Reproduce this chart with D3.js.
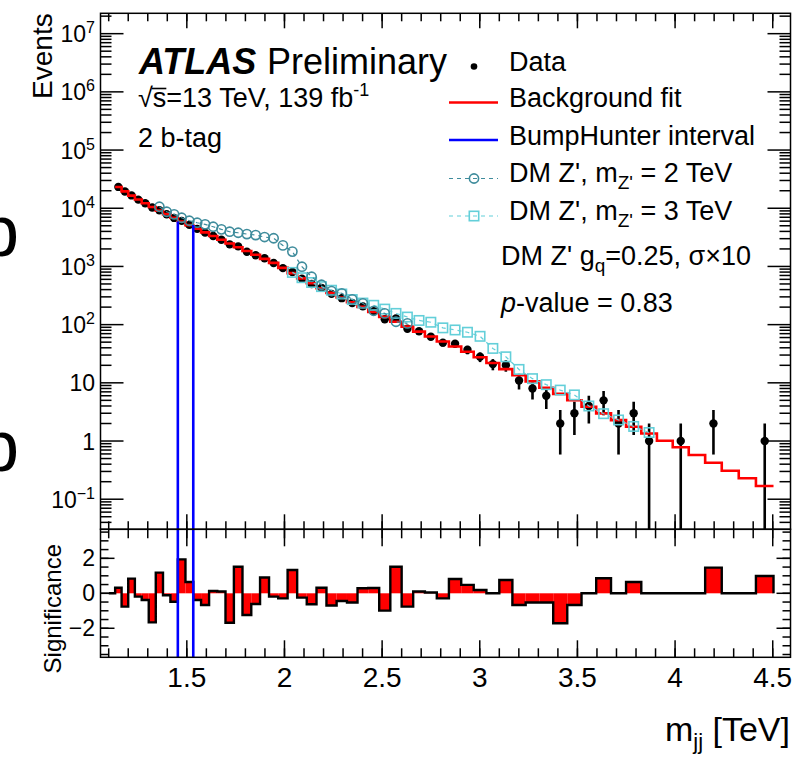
<!DOCTYPE html>
<html>
<head>
<meta charset="utf-8">
<script src="https://cdn.jsdelivr.net/npm/d3@7"></script>
<style>
  body { margin: 0; background: #fff; }
  svg { font-family: "Liberation Sans", Arial, sans-serif; }
</style>
</head>
<body>
<svg id="chart" width="794" height="758"></svg>
<script>
// ---- data ----
// dijet mass bin edges [TeV]
const binEdges = [1.100, 1.133, 1.166, 1.200, 1.234, 1.269, 1.305, 1.341, 1.378, 1.416, 1.454,
  1.493, 1.533, 1.573, 1.614, 1.656, 1.698, 1.741, 1.785, 1.830, 1.875, 1.921, 1.968, 2.016,
  2.065, 2.114, 2.164, 2.215, 2.267, 2.320, 2.374, 2.429, 2.485, 2.542, 2.600, 2.659, 2.719,
  2.780, 2.842, 2.905, 2.969, 3.034, 3.100, 3.167, 3.235, 3.305, 3.376, 3.448, 3.521, 3.596,
  3.672, 3.749, 3.827, 3.907, 3.988, 4.070, 4.154, 4.239, 4.326, 4.414, 4.504];

// observed events per bin
const dataCounts = [0, 23250, 19390, 16610, 14080, 12160, 10330, 9230, 7900, 6820, 6070, 5177,
  4425, 3808, 3338, 2875, 2396, 2210, 1787, 1561, 1383, 1144, 935, 804, 618, 499, 429, 338, 285,
  235, 206, 170, 124, 128, 85, 77, 62, 49, 47, 37, 28, 21, 20, 11, 8, 6, 2, 3, 4, 5, 2, 3, 1, 0,
  1, 0, 2, 0, 0, 1];

// background fit, starting at bin index 1
const bkgStartBin = 1;
const bkgFit = [23200, 19500, 16500, 14100, 12200, 10500, 9120, 7910, 6860, 5920, 5130, 4450,
  3850, 3330, 2870, 2480, 2140, 1840, 1585, 1350, 1150, 944, 767, 624, 513, 422, 351, 292, 243,
  202, 166, 136, 112, 92.3, 75.9, 62.4, 51.3, 42.2, 34.3, 27.5, 21.9, 17.2, 13.5, 10.6, 8.22,
  6.46, 5.01, 3.89, 2.99, 2.29, 1.76, 1.35, 1.01, 0.78, 0.575, 0.424, 0.309, 0.229, 0.169];

// significance per bin
const significance = [0, 0.32, -0.76, 0.84, -0.19, -0.38, -1.66, 1.18, -0.11, -0.48, 1.94, 0.65,
  -0.38, -0.67, 0.13, 0.10, -1.68, 1.52, -1.24, -0.61, 0.90, -0.19, -0.29, 1.33, -0.25, -0.63,
  0.32, -0.70, -0.44, -0.53, 0.29, 0.30, -0.99, 1.52, -0.76, 0.10, 0.05, -0.29, 0.82, 0.48, 0.19,
  0, 0.76, -0.67, -0.53, -0.53, -1.71, -0.67, 0, 0.86, 0, 0.65, 0, 0, 0, 0, 1.47, 0, 0, 0.99];

// DM Z' signal + background, mZ' = 2 TeV (from bin index 7)
const zp2StartBin = 7;
const zp2Values = [10600, 8700, 7860, 6870, 6100, 5640, 5290, 4810, 4340, 3950, 3790, 3600,
  3460, 3200, 3050, 2300, 1800, 990, 665, 485, 378, 345, 272, 232, 173, 156, 112, 105];

// DM Z' signal + background, mZ' = 3 TeV (from bin index 23)
const zp3StartBin = 23;
const zp3Values = [790, 640, 530, 450, 390, 336, 270, 235, 215, 185, 156, 135, 118, 110, 88, 81,
  74, 63, 39, 28, 17, 11.8, 9.3, 7.5, 6.2, 4.0, 2.95, 2.3, 1.78, 1.4];

const bumpInterval = [1.454, 1.533];

const xTickValues = [1.5, 2, 2.5, 3, 3.5, 4, 4.5];
const xTickLabels = ["1.5", "2", "2.5", "3", "3.5", "4", "4.5"];
const yExponents = [-1, 0, 1, 2, 3, 4, 5, 6, 7];
const sigTickValues = [-2, 0, 2];
const sigTickLabels = ["\u22122", "0", "2"];

// ---- layout ----
const frame = {left: 100.5, right: 790.5, top: 13.3, mid: 529.3, bottom: 657.3};
const svg = d3.select("#chart");

const x = d3.scaleLinear().domain([1.058, 4.591]).range([frame.left, frame.right]);
const y = d3.scaleLog().domain([Math.pow(10, -1.517), Math.pow(10, 7.35)]).range([frame.mid, frame.top]);
const ys = d3.scaleLinear().domain([-3.66, 3.66]).range([frame.bottom, frame.mid]);

const bins = binEdges.slice(0, -1).map((lo, i) => ({
  lo: lo, hi: binEdges[i + 1], c: (lo + binEdges[i + 1]) / 2,
  data: dataCounts[i], sig: significance[i],
  bkg: i >= bkgStartBin ? bkgFit[i - bkgStartBin] : null
}));

const defs = svg.append("defs");
defs.append("clipPath").attr("id", "clipMain").append("rect")
  .attr("x", frame.left).attr("y", frame.top)
  .attr("width", frame.right - frame.left).attr("height", frame.mid - frame.top);
defs.append("clipPath").attr("id", "clipRatio").append("rect")
  .attr("x", frame.left).attr("y", frame.mid)
  .attr("width", frame.right - frame.left).attr("height", frame.bottom - frame.mid);

// partial glyphs of the neighbouring figure (cut by the left edge, as in the original)
svg.selectAll("text.edge").data([256, 471]).enter().append("text")
  .attr("class", "edge").attr("x", -21).attr("y", d => d)
  .attr("font-size", 72).text("b");

const main = svg.append("g").attr("clip-path", "url(#clipMain)");

// ---- data points ----
const pts = bins.filter(b => b.data > 0);
main.selectAll("line.err").data(pts).enter().append("line")
  .attr("x1", d => x(d.c)).attr("x2", d => x(d.c))
  .attr("y1", d => y(d.data + Math.sqrt(d.data)))
  .attr("y2", d => (d.data - Math.sqrt(d.data)) > 0 ? y(d.data - Math.sqrt(d.data)) : frame.mid + 10)
  .attr("stroke", "#000").attr("stroke-width", 2.6);
main.selectAll("circle.data").data(pts).enter().append("circle")
  .attr("cx", d => x(d.c)).attr("cy", d => y(d.data)).attr("r", 4.2).attr("fill", "#000");

// ---- background fit ----
let fitPath = "";
bins.filter(b => b.bkg != null).forEach((b, i) => {
  fitPath += (i === 0 ? `M${x(b.lo)},${y(b.bkg)}` : `V${y(b.bkg)}`) + `H${x(b.hi)}`;
});
main.append("path").attr("d", fitPath).attr("fill", "none")
  .attr("stroke", "#ff0000").attr("stroke-width", 2.6);

// ---- signal templates ----
function signal(vals, start, color, shape) {
  const pts = vals.map((v, i) => ({c: bins[start + i].c, v: v}));
  main.append("path")
    .attr("d", d3.line().x(d => x(d.c)).y(d => y(d.v))(pts))
    .attr("fill", "none").attr("stroke", color).attr("stroke-width", 1.2)
    .attr("stroke-dasharray", "4,4");
  if (shape === "circle") {
    main.selectAll(null).data(pts).enter().append("circle")
      .attr("cx", d => x(d.c)).attr("cy", d => y(d.v)).attr("r", 4.6)
      .attr("fill", "none").attr("stroke", color).attr("stroke-width", 1.6);
  } else {
    main.selectAll(null).data(pts).enter().append("rect")
      .attr("x", d => x(d.c) - 4.7).attr("y", d => y(d.v) - 4.7)
      .attr("width", 9.4).attr("height", 9.4)
      .attr("fill", "none").attr("stroke", color).attr("stroke-width", 1.6);
  }
}
signal(zp3Values, zp3StartBin, "#63cfd9", "square");
signal(zp2Values, zp2StartBin, "#3f8c9c", "circle");

// ---- significance panel ----
const ratio = svg.append("g").attr("clip-path", "url(#clipRatio)");
ratio.selectAll("rect.sig").data(bins.filter(b => b.sig !== 0)).enter().append("rect")
  .attr("x", d => x(d.lo)).attr("width", d => x(d.hi) - x(d.lo))
  .attr("y", d => Math.min(ys(0), ys(d.sig))).attr("height", d => Math.abs(ys(d.sig) - ys(0)))
  .attr("fill", "#ff0000");
let sigPath = `M${x(bins[0].lo)},${ys(0)}`;
bins.forEach(b => { sigPath += `V${ys(b.sig)}H${x(b.hi)}`; });
sigPath += `V${ys(0)}`;
ratio.append("path").attr("d", sigPath).attr("fill", "none")
  .attr("stroke", "#000").attr("stroke-width", 2.4);

// ---- BumpHunter interval ----
const inInt = bins.filter(b => b.lo >= bumpInterval[0] - 1e-6 && b.hi <= bumpInterval[1] + 1e-6);
[[bumpInterval[0], inInt[0].bkg], [bumpInterval[1], inInt[inInt.length - 1].bkg]].forEach(p => {
  svg.append("line").attr("x1", x(p[0])).attr("x2", x(p[0]))
    .attr("y1", frame.bottom).attr("y2", y(p[1]))
    .attr("stroke", "#0000ff").attr("stroke-width", 2.6);
});

// ---- ticks ----
const tickG = svg.append("g").attr("stroke", "#000").attr("stroke-width", 1.5);
function vTicks(vals, yPos, len) {
  tickG.selectAll(null).data(vals).enter().append("line")
    .attr("x1", d => x(d)).attr("x2", d => x(d)).attr("y1", yPos).attr("y2", yPos + len);
}
function hTicks(vals, scale, xPos, len) {
  tickG.selectAll(null).data(vals).enter().append("line")
    .attr("y1", d => scale(d)).attr("y2", d => scale(d)).attr("x1", xPos).attr("x2", xPos + len);
}
const xMinor = d3.range(11, 46).map(v => v / 10);
vTicks(xMinor, frame.top, 8); vTicks(xTickValues, frame.top, 15);
vTicks(xMinor, frame.mid, -8); vTicks(xTickValues, frame.mid, -15);
vTicks(xMinor, frame.mid, 9); vTicks(xTickValues, frame.mid, 17);
vTicks(xMinor, frame.bottom, -9); vTicks(xTickValues, frame.bottom, -17);

const yMinor = [];
d3.range(-2, 8).forEach(e => d3.range(2, 10).forEach(m => {
  const v = m * Math.pow(10, e);
  if (v > y.domain()[0] && v < y.domain()[1]) yMinor.push(v);
}));
const yMajor = yExponents.map(e => Math.pow(10, e));
hTicks(yMinor, y, frame.left, 11); hTicks(yMajor, y, frame.left, 23);
hTicks(yMinor, y, frame.right, -11); hTicks(yMajor, y, frame.right, -23);

const sMinor = d3.range(-7, 8).map(v => v / 2);
hTicks(sMinor, ys, frame.left, 8); hTicks(sigTickValues, ys, frame.left, 14);
hTicks(sMinor, ys, frame.right, -8); hTicks(sigTickValues, ys, frame.right, -14);

// ---- frames ----
[[frame.top, frame.mid], [frame.mid, frame.bottom]].forEach(r => {
  svg.append("rect").attr("x", frame.left).attr("y", r[0])
    .attr("width", frame.right - frame.left).attr("height", r[1] - r[0])
    .attr("fill", "none").attr("stroke", "#000").attr("stroke-width", 1.5);
});

// ---- tick labels ----
svg.selectAll("text.xl").data(xTickValues).enter().append("text")
  .attr("x", d => x(d)).attr("y", 687).attr("text-anchor", "middle")
  .attr("font-size", 28).text((d, i) => xTickLabels[i]);

yExponents.forEach(e => {
  const t = svg.append("text").attr("x", 95).attr("y", y(Math.pow(10, e)) + 8.5)
    .attr("text-anchor", "end").attr("font-size", 23);
  if (e === 0) t.text("1");
  else if (e === 1) t.text("10");
  else {
    t.append("tspan").text("10");
    t.append("tspan").attr("font-size", 16).attr("dy", -9)
      .text(e < 0 ? "\u2212" + (-e) : String(e));
  }
});

svg.selectAll("text.sl").data(sigTickValues).enter().append("text")
  .attr("x", 95).attr("y", d => ys(d) + 8).attr("text-anchor", "end")
  .attr("font-size", 23).text((d, i) => sigTickLabels[i]);

// ---- axis titles ----
svg.append("text").attr("transform", "translate(51.5,13.3) rotate(-90)")
  .attr("text-anchor", "end").attr("font-size", 28).text("Events");
svg.append("text").attr("transform", "translate(61,544) rotate(-90)")
  .attr("text-anchor", "end").attr("font-size", 24).text("Significance");
const xt = svg.append("text").attr("x", 790).attr("y", 741).attr("text-anchor", "end").attr("font-size", 34);
xt.append("tspan").text("m");
xt.append("tspan").attr("font-size", 22).attr("dy", 8).text("jj");
xt.append("tspan").attr("dy", -8).text(" [TeV]");

// ---- labels ----
svg.append("text").attr("x", 139).attr("y", 74).attr("font-size", 36)
  .attr("font-weight", "bold").attr("font-style", "italic").text("ATLAS");
svg.append("text").attr("x", 267).attr("y", 74).attr("font-size", 36).text("Preliminary");

const rs = svg.append("text").attr("x", 138).attr("y", 107).attr("font-size", 27);
rs.append("tspan").text("\u221As=13 TeV, 139 fb");
rs.append("tspan").attr("font-size", 18).attr("dy", -11).text("-1");
const rsNode = rs.node();
const sx0 = 138 + rsNode.getSubStringLength(0, 1);
const sx1 = 138 + rsNode.getSubStringLength(0, 2);
svg.append("line").attr("x1", sx0 - 1).attr("x2", sx1).attr("y1", 88.5).attr("y2", 88.5)
  .attr("stroke", "#000").attr("stroke-width", 1.6);

svg.append("text").attr("x", 138).attr("y", 147).attr("font-size", 27).text("2 b-tag");

// ---- legend ----
const lx0 = 449, lx1 = 498, lmx = 474, ltx = 509;
svg.append("circle").attr("cx", lmx).attr("cy", 66.5).attr("r", 3.3).attr("fill", "#000");
svg.append("text").attr("x", ltx).attr("y", 70.5).attr("font-size", 27).text("Data");

svg.append("line").attr("x1", lx0).attr("x2", lx1).attr("y1", 102.5).attr("y2", 102.5)
  .attr("stroke", "#ff0000").attr("stroke-width", 2.6);
svg.append("text").attr("x", ltx).attr("y", 107).attr("font-size", 27).text("Background fit");

svg.append("line").attr("x1", lx0).attr("x2", lx1).attr("y1", 140).attr("y2", 140)
  .attr("stroke", "#0000ff").attr("stroke-width", 2.6);
svg.append("text").attr("x", ltx).attr("y", 144.5).attr("font-size", 27).text("BumpHunter interval");

[[178.5, 182, "#3f8c9c", "circle", "2"], [216, 220, "#63cfd9", "square", "3"]].forEach(r => {
  svg.append("line").attr("x1", lx0).attr("x2", lx1).attr("y1", r[0]).attr("y2", r[0])
    .attr("stroke", r[2]).attr("stroke-width", 1.2).attr("stroke-dasharray", "4,4");
  if (r[3] === "circle") {
    svg.append("circle").attr("cx", lmx).attr("cy", r[0]).attr("r", 4.6)
      .attr("fill", "none").attr("stroke", r[2]).attr("stroke-width", 1.6);
  } else {
    svg.append("rect").attr("x", lmx - 4.7).attr("y", r[0] - 4.7).attr("width", 9.4).attr("height", 9.4)
      .attr("fill", "none").attr("stroke", r[2]).attr("stroke-width", 1.6);
  }
  const t = svg.append("text").attr("x", ltx).attr("y", r[1]).attr("font-size", 27);
  t.append("tspan").text("DM Z', m");
  t.append("tspan").attr("font-size", 19).attr("dy", 7).text("Z'");
  t.append("tspan").attr("dy", -7).text(" = " + r[4] + " TeV");
});

const gq = svg.append("text").attr("x", 501).attr("y", 265).attr("font-size", 27);
gq.append("tspan").text("DM Z' g");
gq.append("tspan").attr("font-size", 19).attr("dy", 7).text("q");
gq.append("tspan").attr("dy", -7).text("=0.25, \u03C3\u00D710");

const pv = svg.append("text").attr("x", 501).attr("y", 312).attr("font-size", 27);
pv.append("tspan").attr("font-style", "italic").text("p");
pv.append("tspan").text("-value = 0.83");
</script>
</body>
</html>
